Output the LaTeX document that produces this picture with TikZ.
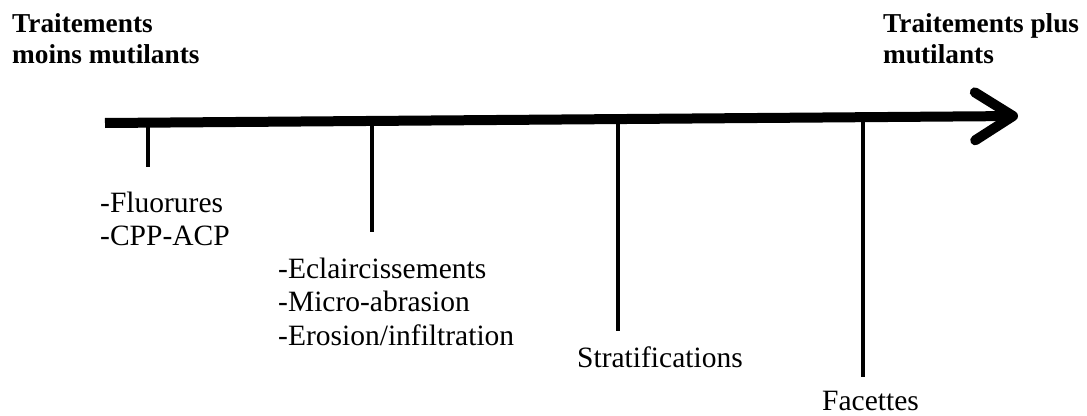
\documentclass[tikz,border=0pt]{standalone}
\usepackage{fontspec}
\setmainfont{Liberation Serif}
\usetikzlibrary{arrows.meta}
\usetikzlibrary{positioning}
\tikzset{bar/.style = {line width = 10pt, -{Straight Barb[length=38pt, width=48pt, round]}}}
\tikzset{tick/.style = {line width = 4pt}}
\tikzset{ttl/.style = {anchor = base west, inner sep = 0, font = \fontsize{27.3}{31}\selectfont\bfseries}}
\tikzset{item/.style = {anchor = base west, inner sep = 0, font = \fontsize{29.5}{34}\selectfont}}

\begin{document}
\begin{tikzpicture}[x = 1pt, y = -1pt]
    \useasboundingbox [fill = white] (0, 0) rectangle (1087, 415);

    % axis
    \coordinate (start) at (105, 123);
    \coordinate (tip) at (1018, 116);
    \draw [bar] (start) -- (tip);

    % ticks
    \coordinate (a1) at (148, 122.7);
    \coordinate (b1) at (148, 167);
    \coordinate (a2) at (372, 121);
    \coordinate (b2) at (372, 232);
    \coordinate (a3) at (618, 119);
    \coordinate (b3) at (618, 331);
    \coordinate (a4) at (863, 117.2);
    \coordinate (b4) at (863, 377);
    \draw [tick] (a1) -- (b1);
    \draw [tick] (a2) -- (b2);
    \draw [tick] (a3) -- (b3);
    \draw [tick] (a4) -- (b4);

    \node [ttl] (lowa) at (12, 32) {Traitements};
    \node [ttl] (lowb) at (12, 63) {moins mutilants};
    \node [ttl] (higha) at (883, 32) {Traitements plus};
    \node [ttl] (highb) at (883, 63) {mutilants};

    \node [item] (fluor) at (100, 212) {-Fluorures};
    \node [item] (cpp) at (100, 245) {-CPP-ACP};
    \node [item] (eclair) at (278, 278) {-Eclaircissements};
    \node [item] (micro) at (278, 311) {-Micro-abrasion};
    \node [item] (erosion) at (278, 345) {-Erosion/infiltration};
    \node [item] (strat) at (577, 367) {Stratifications};
    \node [item] (facet) at (822, 410) {Facettes};
  \end{tikzpicture}
\end{document}
